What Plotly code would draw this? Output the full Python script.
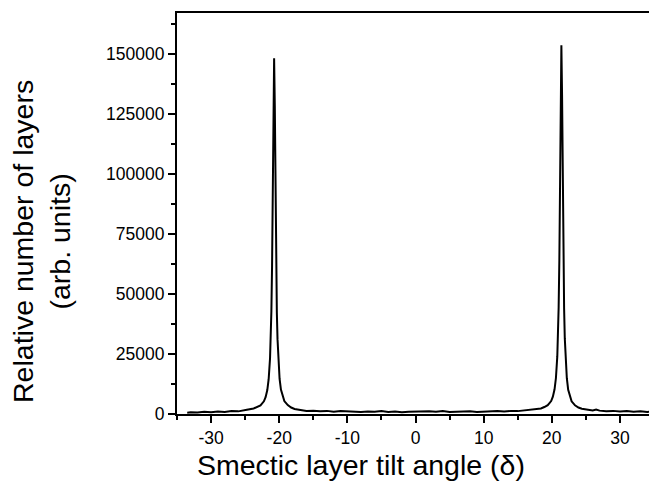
import plotly.graph_objects as go

# Smectic layer tilt angle (delta) values
angle = [
    -33.5, -33, -32, -31, -30, -29, -28, -27, -26, -25.5,
    -24.75, -23.75, -23.25, -22.75, -22.25, -22.0, -21.75, -21.55, -21.35, -21.25,
    -21.15, -21.05, -20.95, -20.85, -20.75, -20.65, -20.55, -20.45, -20.35, -20.25,
    -20.15, -19.95, -19.75, -19.5, -19.25, -18.75, -18.25, -17.75, -16.75,
    -16, -15, -14, -13, -12, -11, -10, -9, -8, -7, -6, -5, -4, -3, -2, -1,
    0, 1, 2, 3, 4, 5, 6, 7, 8, 9, 10, 11, 12, 13, 14, 15, 16, 16.75,
    17.4, 18.4, 18.9, 19.4, 19.9, 20.15, 20.4, 20.6, 20.8, 20.9,
    21.0, 21.1, 21.2, 21.3, 21.4, 21.5, 21.6, 21.7, 21.8, 21.9,
    22.0, 22.2, 22.4, 22.65, 22.9, 23.4, 23.9, 24.4, 25.4,
    26, 26.5, 27, 28, 29, 30, 31, 32, 33, 34, 34.5,
]

# Relative number of layers (arb. units)
layers = [
    500, 700, 600, 900, 700, 1000, 800, 1200, 1100, 1500,
    1800, 2300, 2800, 3600, 5300, 7000, 10000, 14500, 23200, 30900,
    42900, 61900, 91700, 129100, 148200, 128500, 91000, 62400, 42300, 31200,
    23000, 14700, 10200, 7200, 5400, 3700, 2700, 2100, 1600,
    1300, 1400, 1100, 1300, 900, 1200, 1000, 1100, 800, 1000, 900, 1200, 800, 1000, 700, 900,
    1000, 800, 1100, 900, 1200, 800, 1000, 900, 1100, 800, 1000, 900, 1200, 1000, 1300, 1200, 1500, 1600,
    1900, 2300, 2900, 3700, 5400, 7200, 10300, 15000, 24000, 32000,
    44500, 64000, 95000, 133800, 153700, 133000, 94500, 63500, 44000, 31500,
    23500, 14900, 10100, 7100, 5300, 3600, 2700, 2200, 1700,
    1500, 1900, 1400, 1100, 1300, 1000, 1200, 900, 1100, 800, 1000,
]

x_ticks = [-30, -20, -10, 0, 10, 20, 30]
y_ticks = [0, 25000, 50000, 75000, 100000, 125000, 150000]

x_title = "Smectic layer tilt angle (δ)"
y_title = "Relative number of layers<br>(arb. units)"

fig = go.Figure()
fig.add_trace(go.Scatter(
    x=angle, y=layers, mode="lines",
    line=dict(color="black", width=2),
    showlegend=False,
))

font_family = "Liberation Sans, Arial, sans-serif"

fig.update_layout(
    template="none",
    width=649, height=485,
    margin=dict(l=169, r=6, t=5, b=79),
    paper_bgcolor="white", plot_bgcolor="white",
    font=dict(family=font_family, color="black", size=17),
    xaxis=dict(
        automargin=False,
        range=[-35, 34.55],
        tickmode="array", tickvals=x_ticks, ticktext=[str(v) for v in x_ticks],
        ticks="outside", ticklen=7, tickwidth=2, tickcolor="black",
        minor=dict(dtick=5, ticks="outside", ticklen=4, tickwidth=1.5, tickcolor="black"),
        showline=True, linewidth=2, linecolor="black", mirror=True,
        showgrid=False, zeroline=False,
        tickfont=dict(size=17.5),
    ),
    yaxis=dict(
        automargin=False,
        range=[0, 167100],
        tickmode="array", tickvals=y_ticks, ticktext=[str(v) for v in y_ticks],
        ticks="outside", ticklen=7, tickwidth=2, tickcolor="black",
        minor=dict(dtick=12500, tick0=0, ticks="outside", ticklen=4, tickwidth=1.5, tickcolor="black"),
        showline=True, linewidth=2, linecolor="black", mirror=True,
        showgrid=False, zeroline=False,
        tickfont=dict(size=17.5),
    ),
    annotations=[
        dict(text=x_title, xref="paper", yref="paper", x=0.388, y=-0.127,
             xanchor="center", yanchor="middle", showarrow=False,
             font=dict(size=28.5, family=font_family, color="black")),
        dict(text=y_title, xref="paper", yref="paper", x=-0.2848, y=0.429,
             xanchor="center", yanchor="middle", showarrow=False, textangle=-90,
             font=dict(size=28.5, family=font_family, color="black")),
    ],
)

fig.write_html("out.html")
